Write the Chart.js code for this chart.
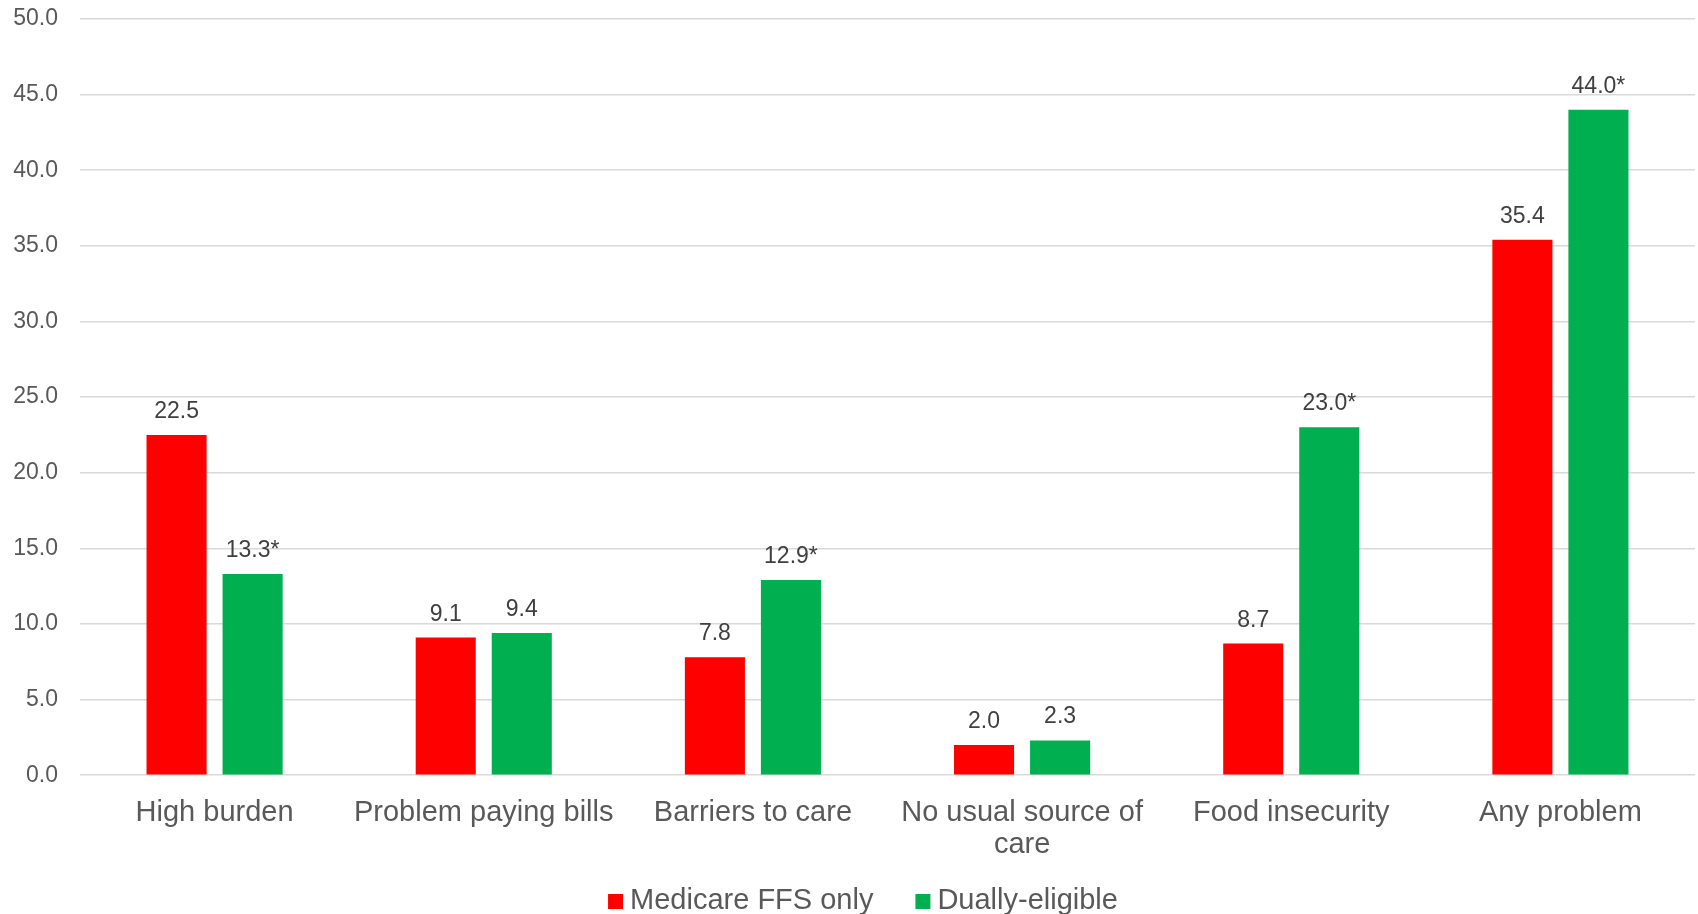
<!DOCTYPE html>
<html>
<head>
<meta charset="utf-8">
<title>Problems by Medicare status</title>
<script src="https://cdn.jsdelivr.net/npm/chart.js@4/dist/chart.umd.min.js"></script>
<style>
    html, body { margin: 0; padding: 0; background: #ffffff; }
    #chart { display: block; }
</style>
</head>
<body>
<canvas id="chart" width="1698" height="914"></canvas>
<script>
// Chart data
const categories = [
    'High burden',
    'Problem paying bills',
    'Barriers to care',
    ['No usual source of', 'care'],
    'Food insecurity',
    'Any problem'
];
const ffsValues = [22.5, 9.1, 7.8, 2.0, 8.7, 35.4];
const dualValues = [13.3, 9.4, 12.9, 2.3, 23.0, 44.0];
// significance markers (asterisk after label)
const ffsStars = [false, false, false, false, false, false];
const dualStars = [true, false, true, false, true, true];
const yTicks = { min: 0, max: 50, step: 5 };

const FONT = '"Liberation Sans", Arial, sans-serif';

// Draw value labels above each bar
const valueLabels = {
    id: 'valueLabels',
    afterDatasetsDraw(chart) {
        const ctx = chart.ctx;
        ctx.save();
        ctx.font = '23px ' + FONT;
        ctx.fillStyle = '#404040';
        ctx.textAlign = 'center';
        ctx.textBaseline = 'alphabetic';
        chart.data.datasets.forEach((ds, i) => {
            const meta = chart.getDatasetMeta(i);
            meta.data.forEach((bar, j) => {
                const text = ds.data[j].toFixed(1) + (ds.stars[j] ? '*' : '');
                ctx.fillText(text, bar.x, bar.y - 17);
            });
        });
        ctx.restore();
    }
};

// Simple legend at the bottom (tighter spacing than the built-in one)
const bottomLegend = {
    id: 'bottomLegend',
    afterDraw(chart) {
        const ctx = chart.ctx;
        const box = 15, gap = 7, spacing = 42;
        ctx.save();
        ctx.font = '29px ' + FONT;
        ctx.textBaseline = 'alphabetic';
        ctx.textAlign = 'left';
        const items = chart.data.datasets.map(ds => ({
            text: ds.label,
            color: ds.backgroundColor,
            width: ctx.measureText(ds.label).width
        }));
        let total = 0;
        items.forEach((it, i) => {
            total += box + gap + it.width + (i > 0 ? spacing : 0);
        });
        let x = chart.width / 2 + 14 - total / 2;
        const baseline = chart.height - 5;
        items.forEach(it => {
            ctx.fillStyle = it.color;
            ctx.fillRect(x, baseline - box, box, box);
            ctx.fillStyle = '#595959';
            ctx.fillText(it.text, x + box + gap, baseline);
            x += box + gap + it.width + spacing;
        });
        ctx.restore();
    }
};

document.addEventListener('DOMContentLoaded', function() {
    const ctx = document.getElementById('chart').getContext('2d');
    new Chart(ctx, {
        type: 'bar',
        data: {
            labels: categories,
            datasets: [{
                label: 'Medicare FFS only',
                data: ffsValues,
                stars: ffsStars,
                backgroundColor: '#FF0000',
                borderWidth: 0
            }, {
                label: 'Dually-eligible',
                data: dualValues,
                stars: dualStars,
                backgroundColor: '#00B050',
                borderWidth: 0
            }]
        },
        options: {
            responsive: false,
            animation: false,
            categoryPercentage: 0.565,
            barPercentage: 0.79,
            layout: {
                padding: { top: 0, right: 3, bottom: 31, left: 0 }
            },
            scales: {
                x: {
                    grid: { display: false, drawTicks: false },
                    border: { display: false },
                    ticks: {
                        color: '#595959',
                        padding: 22,
                        maxRotation: 0,
                        autoSkip: false,
                        font: { family: FONT, size: 29, lineHeight: 1.1 }
                    }
                },
                y: {
                    min: yTicks.min,
                    max: yTicks.max,
                    afterFit: function(scale) {
                        scale.width = 80;
                        scale.paddingTop = 19;
                        scale.paddingBottom = 14;
                    },
                    grid: { color: '#D9D9D9', lineWidth: 1.5, drawTicks: false },
                    border: { display: false },
                    ticks: {
                        stepSize: yTicks.step,
                        color: '#595959',
                        padding: 22,
                        font: { family: FONT, size: 23 },
                        callback: function(value) { return value.toFixed(1); }
                    }
                }
            },
            plugins: {
                legend: { display: false },
                tooltip: { enabled: false }
            }
        },
        plugins: [valueLabels, bottomLegend]
    });
});
</script>
</body>
</html>
